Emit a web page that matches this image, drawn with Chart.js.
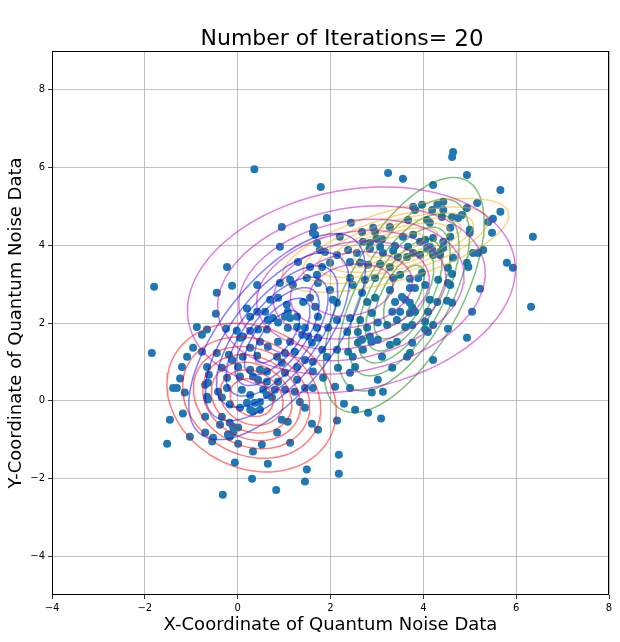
<!DOCTYPE html>
<html>
<head>
<meta charset="utf-8">
<script src="https://cdn.jsdelivr.net/npm/chart.js@4.4.1/dist/chart.umd.min.js"></script>
<style>
  html, body { margin: 0; padding: 0; background: #fff; }
  #wrap { width: 620px; height: 642px; }
</style>
</head>
<body>
<div id="wrap"><canvas id="noiseChart" width="620" height="642"></canvas></div>
<script>
const iterations = 20;
const xTicks = [-4, -2, 0, 2, 4, 6, 8];
const yTicks = [-4, -2, 0, 2, 4, 6, 8];

// noise samples as [x, y]
const samples = [
  // upper right
  [4.64,6.40],[4.62,6.27],[3.56,5.71],[4.94,5.81],[4.21,5.55],[5.66,5.42],[3.78,4.99],[3.97,5.04],
  [3.82,4.91],[4.19,4.91],[4.30,5.04],[4.43,5.12],[4.43,4.91],[5.16,5.09],[4.94,4.96],[3.67,4.65],
  [4.08,4.65],[4.14,4.58],[4.40,4.73],[4.62,4.73],[4.75,4.70],[4.83,4.78],[5.66,4.86],[5.50,4.68],
  [5.40,4.60],[5.00,4.40],[5.00,4.32],[5.48,4.32],[4.58,4.45],[4.58,4.22],[6.36,4.22],[3.78,4.27],
  [3.56,4.22],[3.93,4.09],[4.04,4.14],[4.21,4.19],[3.67,3.96],[4.08,3.93],[4.14,3.96],[4.19,3.88],
  [4.43,4.09],[4.36,3.83],[4.43,3.93],[5.07,3.80],[5.18,3.80],[5.29,3.88],[4.64,3.68],[4.94,3.55],
  [4.97,3.44],[4.36,3.75],[4.21,3.75],[3.93,3.75],[3.78,3.80],[3.65,3.70],[5.80,3.55],[5.93,3.42],
  [4.53,3.42],
  // right, middle
  [4.62,3.26],[3.97,3.29],[4.53,3.03],[4.58,2.98],[5.22,2.88],[3.71,3.14],[3.89,3.16],[4.04,2.98],
  [4.32,3.11],[3.71,2.90],[3.82,2.90],[4.14,2.60],[4.30,2.54],[4.51,2.57],[4.62,2.52],[6.32,2.42],
  [5.05,2.29],[3.61,2.60],[3.71,2.52],[3.76,2.39],[3.82,2.29],[3.71,2.26],[4.10,2.29],[4.04,2.03],
  [4.21,1.95],[3.61,1.90],[3.76,1.95],[4.04,1.83],[4.10,1.77],[4.53,1.85],[3.76,1.49],[4.94,1.62],
  [3.71,1.23],[3.65,1.13],[4.21,1.05],
  // upper middle
  [3.24,5.86],[1.79,5.50],[0.95,4.47],[1.92,4.70],[1.64,4.47],[1.62,4.32],[1.67,4.27],[2.44,4.58],
  [2.20,4.22],[2.68,4.34],[2.92,4.45],[2.96,4.34],[3.28,4.47],[2.70,4.09],[2.85,4.06],[3.00,4.16],
  [3.11,4.16],[3.39,3.98],[1.71,4.06],[0.91,3.96],[1.77,3.88],[1.88,3.83],[2.38,3.88],[2.57,3.80],
  [2.85,3.91],[3.07,3.96],[3.13,3.80],[3.35,3.86],[3.45,3.70],[1.30,3.57],[1.56,3.44],[1.82,3.44],
  [1.99,3.55],[2.14,3.75],[2.42,3.57],[2.64,3.55],[2.81,3.50],[3.07,3.52],[3.28,3.44],
  // upper left
  [0.36,5.96],[-0.23,3.44],
  // left, middle
  [-1.80,2.93],[-0.45,2.78],[-0.12,2.96],[0.42,2.98],[-0.47,2.24],[0.20,2.37],[0.27,2.16],[0.42,2.29],
  [0.59,2.29],[0.70,2.60],[0.65,2.08],[0.76,2.13],[-0.88,1.90],[-0.66,1.83],[-0.77,1.70],[-0.25,1.85],
  [-0.02,1.80],[0.05,1.62],[0.11,1.65],[0.27,1.80],[0.44,1.83],[0.63,1.83],[0.48,1.52],[0.65,1.39],
  [-1.85,1.23],[-0.96,1.36],[-0.77,1.26],[-1.09,1.13],[-0.45,1.23],[-0.19,1.18],[-0.12,1.05],[0.11,1.13],
  [0.42,1.16],[0.27,1.36],[-1.20,0.87],[-0.66,0.87],[-0.34,0.85],[0.01,0.87],[0.27,0.80],[0.48,0.80],
  [0.63,0.75],[-1.24,0.57],[-0.62,0.67],[-0.23,0.59],[0.05,0.62],[0.33,0.62],[0.44,0.54],[0.63,0.49],
  [-0.64,0.46],
  // lower left
  [-1.39,0.33],[-1.31,0.33],[-1.14,0.21],[-0.70,0.41],[-0.42,0.23],[-0.23,0.33],[-0.66,0.10],[-0.64,0.03],
  [-0.34,0.08],[-0.17,-0.10],[0.09,0.28],[0.27,0.15],[0.55,0.28],[0.63,0.15],[0.74,0.08],[0.20,-0.05],
  [0.37,-0.05],[0.48,-0.03],[0.33,-0.28],[0.27,-0.23],[0.05,-0.18],[0.48,-0.23],[-1.46,-0.49],[-1.18,-0.33],
  [-0.70,-0.41],[-0.34,-0.41],[-0.38,-0.62],[-0.17,-0.57],[-0.10,-0.67],[0.01,-0.69],[-0.10,-0.82],[-0.70,-0.82],
  [-0.53,-0.95],[-0.55,-1.05],[-0.21,-0.87],[-0.17,-0.93],[-1.03,-0.93],[-1.52,-1.11],[0.01,-1.11],[0.52,-1.13],
  [0.33,-1.31],[-0.06,-1.59],[0.65,-1.62],[0.31,-2.01],[-0.32,-2.42],[0.83,-2.30],
  // lower middle
  [2.89,0.21],[3.13,0.23],[2.29,-0.08],[2.53,-0.23],[2.81,-0.31],[3.09,-0.46],[2.14,-0.51],[1.60,-0.59],
  [1.73,-0.75],[1.45,-0.18],[1.34,-0.03],[1.13,-1.08],[0.95,-0.49],[1.08,-0.54],[0.85,-0.82],[2.18,-1.39],
  [2.18,-1.88],[1.49,-1.77],[1.45,-2.08],[0.80,0.28],[1.02,0.28],[1.23,0.23],[1.45,0.33],[1.62,0.33],
  [2.10,0.36],[2.42,0.33],
  // centre
  [1.71,3.24],[1.73,3.03],[2.42,3.16],[2.48,2.98],[2.74,3.11],[2.96,3.16],[3.35,3.16],[3.50,3.24],
  [3.28,2.85],[3.39,2.54],[3.54,2.67],[0.91,3.03],[1.13,3.11],[1.19,2.98],[1.49,3.16],[1.99,2.85],
  [1.41,2.54],[1.56,2.65],[1.67,2.42],[2.05,2.60],[2.14,2.52],[2.68,2.78],[2.79,2.54],[2.96,2.65],
  [3.33,2.29],[3.50,2.29],[0.87,2.65],[1.06,2.47],[1.08,2.29],[1.02,2.16],[1.13,2.13],[1.28,2.16],
  [1.73,2.16],[2.14,2.08],[2.42,2.13],[2.64,2.08],[2.89,2.26],[3.02,2.01],[3.22,1.95],[3.43,2.08],
  [0.87,2.01],[1.08,1.88],[1.28,1.90],[1.45,1.88],[1.71,1.88],[1.95,1.88],[2.36,1.77],[2.59,1.77],
  [2.79,1.88],[2.85,1.65],[3.02,1.57],[2.68,1.57],[1.39,1.70],[1.52,1.65],[1.73,1.62],[1.13,1.52],
  [0.87,1.52],[1.60,1.49],[3.28,1.44],[3.43,1.52],[2.89,1.52],[2.59,1.49],[2.14,1.31],[2.38,1.26],
  [2.48,1.13],[2.70,1.31],[3.11,1.13],[1.82,1.31],[1.23,1.26],[1.02,1.23],[0.85,1.13],[1.45,1.05],
  [1.62,1.00],[1.92,1.13],[2.16,0.85],[2.53,0.87],[3.33,0.85],[1.28,0.87],[0.95,0.98],[1.02,0.72],
  [1.62,0.75],[1.84,0.59],[2.42,0.72],[3.02,0.54],[0.87,0.49],[1.28,0.54]
];

// fitted gaussian components: colour, mean, covariance [sxx, sxy, syy]
const compColors = ['rgba(255,0,0,0.5)', 'rgba(0,0,255,0.5)', 'rgba(191,0,191,0.5)',
                    'rgba(255,170,0,0.5)', 'rgba(0,128,0,0.5)'];
const compMeans = [[0.30, 0.08], [0.85, 1.65], [2.45, 2.85], [3.40, 4.00], [3.58, 2.72]];
const compCovs = [[0.80, -0.15, 0.88], [0.87, 0.80, 1.69], [3.00, 0.45, 1.69],
                  [1.43, 0.45, 0.35], [0.72, 0.78, 2.20]];
// contour levels as a share of each component's peak density
const contourLevels = [0.125, 0.25, 0.375, 0.5, 0.625, 0.75, 0.875];

function contourRing(mean, cov, level) {
    const r = Math.sqrt(-2 * Math.log(level));
    const a = Math.sqrt(cov[0]);
    const b = cov[1] / a;
    const c = Math.sqrt(cov[2] - b * b);
    const pts = [];
    for (let i = 0; i <= 120; i++) {
        const t = i / 120 * 2 * Math.PI;
        const u = Math.cos(t), v = Math.sin(t);
        pts.push({x: mean[0] + r * a * u, y: mean[1] + r * (b * u + c * v)});
    }
    return pts;
}

const datasets = [];
for (let k = 0; k < compMeans.length; k++) {
    for (const lev of contourLevels) {
        datasets.push({
            data: contourRing(compMeans[k], compCovs[k], lev),
            showLine: true,
            borderColor: compColors[k],
            borderWidth: 1.5,
            pointRadius: 0,
            fill: false,
            order: 0
        });
    }
}
datasets.push({
    data: samples.map(p => ({x: p[0], y: p[1]})),
    backgroundColor: '#1f77b4',
    borderWidth: 0,
    pointRadius: 4,
    order: 1
});

const fmt = v => v < 0 ? '\u2212' + Math.abs(v) : String(v);

const frameAndText = {
    id: 'frameAndText',
    afterDraw(chart) {
        const ctx = chart.ctx;
        const a = chart.chartArea;
        ctx.save();
        ctx.strokeStyle = '#000';
        ctx.lineWidth = 1;
        ctx.strokeRect(a.left + 0.5, a.top + 0.5, a.right - a.left - 1, a.bottom - a.top - 1);

        ctx.fillStyle = '#000';
        ctx.textBaseline = 'alphabetic';
        // title
        const t1 = 'Number of Iterations= ';
        const t2 = String(iterations);
        ctx.font = '22px "DejaVu Sans"';
        const w1 = ctx.measureText(t1).width;
        ctx.font = '23px "DejaVu Sans"';
        const w2 = ctx.measureText(t2).width;
        const x0 = 342 - (w1 + w2) / 2;
        ctx.textAlign = 'left';
        ctx.font = '22px "DejaVu Sans"';
        ctx.fillText(t1, x0, 45);
        ctx.font = '23px "DejaVu Sans"';
        ctx.fillText(t2, x0 + w1, 46);

        // axis titles
        ctx.font = '18px "DejaVu Sans"';
        ctx.textAlign = 'center';
        ctx.fillText('X-Coordinate of Quantum Noise Data', (a.left + a.right) / 2, 630);
        ctx.translate(21, (a.top + a.bottom) / 2);
        ctx.rotate(-Math.PI / 2);
        ctx.fillText('Y-Coordinate of Quantum Noise Data', 0, 0);
        ctx.restore();
    }
};

new Chart(document.getElementById('noiseChart'), {
    type: 'scatter',
    data: {datasets: datasets},
    options: {
        responsive: false,
        animation: false,
        devicePixelRatio: 1,
        layout: {padding: {top: 51, right: 11, left: 0, bottom: 0}},
        plugins: {legend: {display: false}, tooltip: {enabled: false}},
        scales: {
            x: {
                min: -4, max: 8,
                afterBuildTicks: s => { s.ticks = xTicks.map(v => ({value: v})); },
                afterFit: s => { s.height = 47; },
                grid: {color: '#b0b0b0', lineWidth: 0.8, tickColor: '#000', tickLength: 4},
                border: {display: false},
                ticks: {color: '#000', padding: 3, maxRotation: 0,
                        font: {family: 'DejaVu Sans', size: 10}, callback: fmt}
            },
            y: {
                min: -5, max: 9,
                afterBuildTicks: s => { s.ticks = yTicks.map(v => ({value: v})); },
                afterFit: s => { s.width = 52; },
                grid: {color: '#b0b0b0', lineWidth: 0.8, tickColor: '#000', tickLength: 4},
                border: {display: false},
                ticks: {color: '#000', padding: 3,
                        font: {family: 'DejaVu Sans', size: 10}, callback: fmt}
            }
        }
    },
    plugins: [frameAndText]
});
</script>
</body>
</html>
